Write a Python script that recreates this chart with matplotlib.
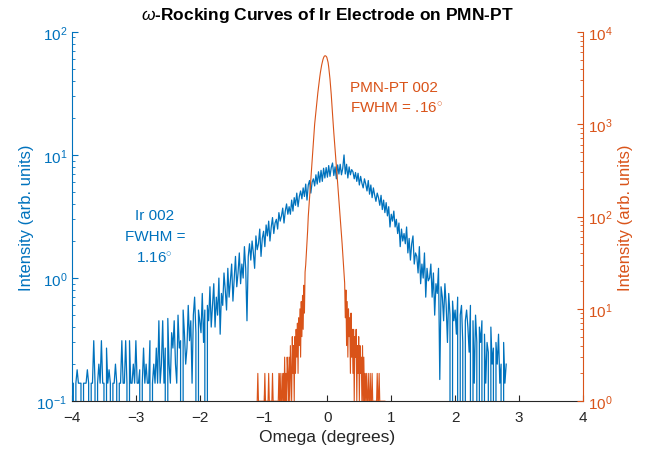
import numpy as np
import matplotlib
matplotlib.use("Agg")
import matplotlib.pyplot as plt

plt.rcParams['font.family'] = ['Liberation Sans', 'DejaVu Sans']
plt.rcParams['mathtext.fontset'] = 'custom'
plt.rcParams['mathtext.rm'] = 'Liberation Sans'
plt.rcParams['mathtext.it'] = 'Liberation Sans:italic'

# %% data

# Ir 002 (left axis), omega grid -4.00 .. 2.80, step 0.02
ir_start, ir_step = -4.0, 0.02
ir_counts = [
    0.14, 0.14, 0, 0.14, 0.18, 0.14, 0.14, 0.14, 0, 0.14,
    0.14, 0.14, 0.18, 0.14, 0, 0.14, 0.14, 0.31, 0.14, 0,
    0.14, 0.2, 0.14, 0.31, 0.14, 0.14, 0, 0.27, 0.14, 0.18,
    0.14, 0, 0.14, 0.14, 0.2, 0.14, 0, 0.14, 0.14, 0.31,
    0.14, 0.14, 0.31, 0.14, 0, 0.31, 0.14, 0.14, 0.2, 0.14,
    0.31, 0.14, 0.14, 0.18, 0, 0.14, 0.27, 0.14, 0.2, 0.14,
    0.14, 0.31, 0, 0.14, 0.2, 0.14, 0.27, 0.14, 0.45, 0.14,
    0.2, 0.45, 0.14, 0.27, 0, 0.47, 0.2, 0.14, 0.36, 0.27,
    0.45, 0.2, 0.14, 0.5, 0.27, 0.31, 0, 0.55, 0.36, 0.2,
    0.27, 0.6, 0.31, 0.45, 0.14, 0.5, 0.7, 0.36, 0, 0.55,
    0.45, 0.36, 0.75, 0.3, 0.55, 0, 0.6, 0.45, 0.85, 0.4,
    0.6, 0.9, 0.4, 0.7, 0.5, 1.0, 0.35, 0.75, 0.6, 1.1,
    0.8, 0.55, 1.2, 0.7, 0.95, 1.3, 0.65, 1.0, 1.5, 0.85,
    1.1, 1.6, 0.9, 1.3, 1.0, 1.8, 1.2, 0.45, 1.5, 1.9,
    1.4, 2.0, 1.6, 1.2, 2.2, 1.7, 1.9, 2.5, 1.5, 2.1,
    2.4, 1.8, 2.7, 2.2, 2.9, 2.0, 2.6, 3.1, 2.3, 2.8,
    3.0, 2.5, 3.4, 2.9, 3.2, 3.7, 2.8, 3.5, 4.0, 3.3,
    3.8, 3.3, 4.3, 3.5, 4.5, 3.9, 4.9, 3.8, 4.6, 5.1,
    4.4, 5.4, 4.6, 5.8, 4.3, 5.7, 6.2, 4.9, 6.0, 6.4,
    5.6, 6.9, 5.8, 7.3, 6.0, 7.5, 6.1, 7.8, 6.5, 7.9,
    6.6, 8.2, 6.7, 7.9, 8.6, 6.8, 8.0, 6.4, 8.3, 7.0,
    8.4, 6.9, 7.8, 10.0, 7.0, 8.4, 6.5, 8.0, 6.9, 7.6,
    7.3, 6.4, 7.2, 6.1, 7.1, 5.7, 6.7, 5.9, 5.4, 6.4,
    5.8, 5.1, 6.2, 4.8, 5.7, 4.5, 5.4, 4.7, 4.2, 4.9,
    4.5, 3.9, 4.7, 3.6, 4.3, 3.4, 4.1, 3.2, 3.8, 2.6,
    3.3, 2.9, 3.5, 2.6, 3.0, 2.3, 2.8, 1.8, 2.5, 2.0,
    2.3, 1.9, 2.6, 1.6, 2.1, 1.4, 1.9, 2.2, 1.3, 1.6,
    1.5, 1.1, 1.8, 0.9, 1.3, 1.0, 1.6, 0.7, 1.2, 0.95,
    1.0, 1.3, 0.7, 1.1, 0.5, 0.9, 0.75, 1.2, 0.15, 0.85,
    0.7, 0.45, 0.9, 0.6, 0.3, 0.75, 0.5, 0, 0.65, 0.45,
    0.55, 0.35, 0.7, 0, 0.5, 0.6, 0.3, 0, 0.45, 0.55,
    0.4, 0.25, 0.6, 0, 0.45, 0.14, 0.5, 0.3, 0, 0.4,
    0.3, 0.45, 0, 0.35, 0.14, 0.3, 0.25, 0, 0.4, 0.2,
    0.27, 0, 0.3, 0.2, 0.35, 0.14, 0.2, 0, 0.3, 0.14,
    0.2,
]

# PMN-PT 002 (right axis), omega grid -1.10 .. 0.90, step 0.01
pmn_start, pmn_step = -1.10, 0.01
pmn_counts = [
    1, 2, 1, 1, 1, 1, 1, 1, 1, 1,
    1, 1, 2, 1, 1, 1, 1, 1, 2, 1,
    1, 1, 1, 1, 2, 1, 1, 1, 1, 1,
    1, 1, 1, 1, 2, 1, 2, 1, 1, 2,
    1, 2, 1, 3, 1, 2, 1, 3, 2, 1,
    3, 1, 4, 2, 1, 5, 2, 4, 1, 5,
    2, 6, 3, 7, 2, 8, 4, 10, 3, 12,
    5, 14, 6, 18, 9, 25, 30, 40, 52, 70,
    100, 126, 158, 200, 251, 316, 398, 501, 631, 794,
    1000, 1175, 1380, 1620, 1905, 2190, 2510, 2880, 3240, 3630,
    3980, 4370, 4680, 5010, 5250, 5430, 5500, 5500, 5430, 5310,
    5010, 4680, 4170, 3630, 3090, 2570, 2090, 1660, 1290, 1000,
    810, 660, 530, 430, 350, 285, 230, 186, 150, 123,
    100, 80, 64, 51, 40, 31, 25, 19, 8, 16,
    4, 12, 3, 10, 5, 8, 2, 9, 3, 6,
    2, 6, 1, 5, 3, 6, 1, 4, 2, 5,
    1, 4, 2, 3, 1, 4, 1, 3, 1, 2,
    1, 2, 1, 1, 2, 1, 1, 2, 1, 1,
    2, 1, 1, 1, 1, 1, 1, 1, 2, 1,
    1, 2, 1, 1, 1, 1, 1, 1, 1, 1,
    1,
]

ir_label = "Ir 002\nFWHM =\n1.16$^{\\circ}$"
pmn_label = "PMN-PT 002\nFWHM = .16$^{\\circ}$"

blue = "#0072BD"
orange = "#D95319"
dark = "#262626"

# %% plot

ir_omega = ir_start + ir_step * np.arange(len(ir_counts))
pmn_omega = pmn_start + pmn_step * np.arange(len(pmn_counts))

fig = plt.figure(figsize=(6.49, 4.56), dpi=100)
ax = fig.add_axes([0.111, 0.118, 0.787, 0.81])
ax2 = ax.twinx()

ax.plot(ir_omega, ir_counts, color=blue, lw=0.9)
ax2.plot(pmn_omega, pmn_counts, color=orange, lw=0.8)

ax.set_yscale("log")
ax2.set_yscale("log")
ax.set_xlim(-4, 4)
ax.set_ylim(0.1, 100)
ax2.set_ylim(1, 1e4)
ax.set_xticks(np.arange(-4, 5, 1))

for a in (ax, ax2):
    a.spines["top"].set_visible(False)
    a.tick_params(which="both", direction="in", labelsize=11)
    a.tick_params(which="major", length=4)
    a.tick_params(which="minor", length=2)

ax.spines["left"].set_color(blue)
ax.spines["bottom"].set_color(dark)
ax.spines["right"].set_visible(False)
ax2.spines["left"].set_visible(False)
ax2.spines["bottom"].set_visible(False)
ax2.spines["right"].set_color(orange)

ax.tick_params(axis="y", which="both", colors=blue)
ax.tick_params(axis="x", colors=dark, pad=6)
ax2.tick_params(axis="y", which="both", colors=orange)

ax.set_xlabel("Omega (degrees)", fontsize=12.5, color=dark, labelpad=4)
ax.set_ylabel("Intensity (arb. units)", fontsize=12, color=blue, labelpad=2)
ax2.set_ylabel("Intensity (arb. units)", fontsize=12, color=orange, labelpad=4)
ax.set_title("$\\omega$-Rocking Curves of Ir Electrode on PMN-PT",
             fontsize=12.5, fontweight="bold", pad=9)

ax.text(0.162, 0.447, ir_label, transform=ax.transAxes, color=blue,
        fontsize=11, ha="center", va="center", linespacing=1.65)
ax2.text(0.544, 0.822, pmn_label, transform=ax2.transAxes, color=orange,
         fontsize=11, ha="left", va="center", linespacing=1.55)

fig.savefig("out.png", dpi=100)
